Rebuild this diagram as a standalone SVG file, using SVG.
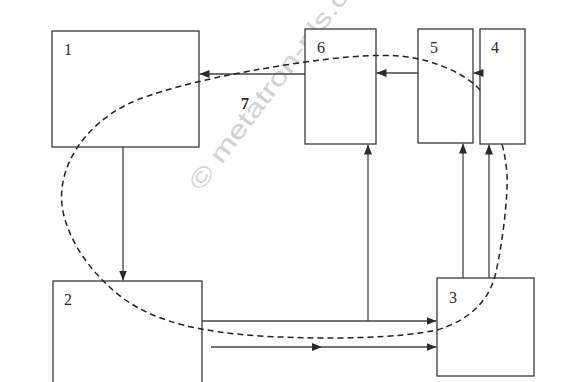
<svg xmlns="http://www.w3.org/2000/svg" width="573" height="382" viewBox="0 0 573 382">
  <defs>
    <style>
      .box { fill: #ffffff; stroke: #3a3a3a; stroke-width: 1.3; }
      .lbl { font-family: "Liberation Serif", "DejaVu Serif", serif; font-size: 16px; fill: #2a2a2a; }
      .ln { fill: none; stroke: #444444; stroke-width: 1.3; }
      .dash { fill: none; stroke: #222222; stroke-width: 1.5; stroke-dasharray: 6 4; }
      .wm { font-family: "Liberation Sans", "DejaVu Sans", sans-serif; font-size: 25px; fill: #d2d2d2; }
    </style>
    <marker id="arr" viewBox="0 0 10 8" refX="10" refY="4" markerWidth="10" markerHeight="8" markerUnits="userSpaceOnUse" orient="auto">
      <path d="M0,0 L10,4 L0,8 Z" fill="#2a2a2a"/>
    </marker>
  </defs>
  <rect width="573" height="382" fill="#ffffff"/>

  <text class="wm" transform="translate(201,192) rotate(-52.7)" textLength="245" lengthAdjust="spacingAndGlyphs">© metatron-nls.c</text>

  <g id="node1"><rect class="box" x="52" y="31" width="147" height="116"/><text class="lbl" x="64" y="55">1</text></g>
  <g id="node6"><rect class="box" x="305" y="29" width="71" height="115"/><text class="lbl" x="317" y="53">6</text></g>
  <g id="node5"><rect class="box" x="418" y="29" width="55" height="114"/><text class="lbl" x="430" y="53">5</text></g>
  <g id="node4"><rect class="box" x="480" y="29" width="45" height="115"/><text class="lbl" x="491" y="53">4</text></g>
  <g id="node2"><rect class="box" x="53" y="281" width="149" height="115"/><text class="lbl" x="64" y="305">2</text></g>
  <g id="node3"><rect class="box" x="437" y="278" width="97" height="98"/><text class="lbl" x="449" y="303">3</text></g>
  <g id="node7"><text class="lbl" x="241" y="109" font-weight="bold">7</text></g>

  <g id="connectors">
    <line class="ln" x1="305" y1="74" x2="199.5" y2="74" marker-end="url(#arr)"/>
    <line class="ln" x1="418" y1="73" x2="376.5" y2="73" marker-end="url(#arr)"/>
    <line class="ln" x1="480" y1="73" x2="473.5" y2="73" marker-end="url(#arr)"/>
    <line class="ln" x1="123" y1="147" x2="123" y2="280.5" marker-end="url(#arr)"/>
    <line class="ln" x1="202" y1="321" x2="436.5" y2="321" marker-end="url(#arr)"/>
    <line class="ln" x1="368" y1="321" x2="368" y2="144.5" marker-end="url(#arr)"/>
    <line class="ln" x1="211" y1="347" x2="322" y2="347" marker-end="url(#arr)"/>
    <line class="ln" x1="322" y1="347" x2="436.5" y2="347" marker-end="url(#arr)"/>
    <line class="ln" x1="463" y1="278" x2="463" y2="143.5" marker-end="url(#arr)"/>
    <line class="ln" x1="489" y1="278" x2="489" y2="144.5" marker-end="url(#arr)"/>
    <path class="dash" d="M480,90 C470,78 440,60 400,56 C360,53 300,62 250,71 C200,80 150,93 128,104 C80,128 58,170 62,205 C66,240 95,280 130,303 C160,322 200,332 260,336 C330,340 400,338 437,330 C470,320 490,300 496,272 C502,245 508,200 507,175 C506,160 504,152 502,144"/>
  </g>
</svg>
